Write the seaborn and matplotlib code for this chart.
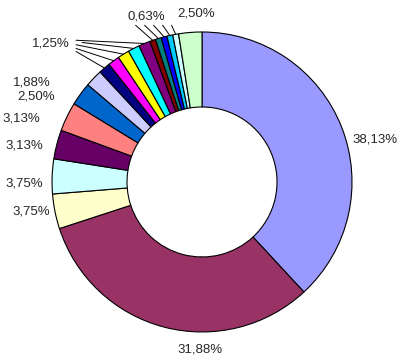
import numpy as np
import matplotlib
matplotlib.use("Agg")
import matplotlib.pyplot as plt
import seaborn as sns

# ---- data ----
values = [38.13, 31.88, 3.75, 3.75, 3.13, 3.13, 2.50, 1.88,
          1.25, 1.25, 1.25, 1.25, 1.25,
          0.63, 0.63, 0.63, 0.63, 0.63, 2.50]
colors = ["#9999FF", "#993366", "#FFFFCC", "#CCFFFF", "#660066", "#FF8080",
          "#0066CC", "#CCCCFF",
          "#000080", "#FF00FF", "#FFFF00", "#00FFFF", "#800080",
          "#800000", "#008080", "#0000FF", "#00CCFF", "#CCFFFF", "#CCFFCC"]
# single labels: slice index -> text position (data coords)
single_labels = {0: (1.153, 0.28), 1: (-0.013, -1.12), 2: (-1.14, -0.2),
                 3: (-1.187, -0.007), 4: (-1.187, 0.24), 5: (-1.207, 0.42),
                 6: (-1.107, 0.567), 7: (-1.133, 0.66), 18: (-0.04, 1.12)}
# grouped labels with leader lines
group_125 = [8, 9, 10, 11, 12]
group_063 = [13, 14, 15, 16, 17]


def fmt(v):
    return f"{v:.2f}".replace(".", ",") + "%"


sns.set_theme(style="white")
plt.rcParams["font.family"] = ["Liberation Sans", "DejaVu Sans"]

fig = plt.figure(figsize=(4.0, 3.62), dpi=100)
ax = fig.add_axes([0, 0, 1, 1])
wedges, _ = ax.pie(values, colors=colors, startangle=90, counterclock=False,
                   radius=1.0,
                   wedgeprops=dict(width=0.5, edgecolor="black", linewidth=0.8))
ax.set_xlim(-1.347, 1.32)
ax.set_ylim(-1.2, 1.213)
ax.set_aspect("equal")
ax.axis("off")

fs = 9.5
for i, (x, y) in single_labels.items():
    ax.text(x, y, fmt(values[i]), ha="center", va="center", fontsize=fs)


def edge_point(w, r=1.0):
    ang = np.deg2rad((w.theta1 + w.theta2) / 2)
    return r * np.cos(ang), r * np.sin(ang)


# 1,25% group
lx, ly = -1.007, 0.92
ax.text(lx, ly, fmt(values[group_125[0]]), ha="center", va="center", fontsize=fs)
starts = [(-0.84, 0.87), (-0.84, 0.89), (-0.84, 0.915), (-0.80, 0.93), (-0.84, 0.945)]
for k, i in enumerate(group_125):
    ex, ey = edge_point(wedges[i], 1.0)
    sx, sy = starts[k]
    ax.plot([sx, ex], [sy, ey], color="black", lw=0.7)

# 0,63% group
gx, gy = -0.373, 1.10
ax.text(gx, gy, fmt(values[group_063[0]]), ha="center", va="center", fontsize=fs)
for k, i in enumerate(group_063):
    ex, ey = edge_point(wedges[i], 1.0)
    sx = gx - 0.07 + k * 0.06
    ax.plot([sx, ex], [gy - 0.055, ey], color="black", lw=0.7)

fig.savefig("out.png", dpi=100, facecolor="white")
